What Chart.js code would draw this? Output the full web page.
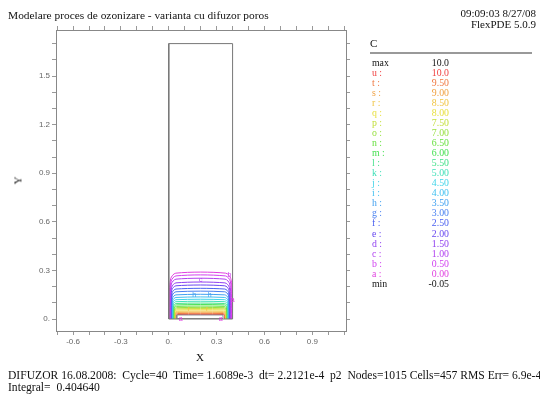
<!DOCTYPE html>
<html lang="ro">
<head>
<meta charset="UTF-8">
<title>Modelare proces de ozonizare</title>
<script src="https://cdn.jsdelivr.net/npm/chart.js@4.4.1/dist/chart.umd.min.js"></script>
<style>
    body { margin: 0; background: #fff; font-family: "Liberation Serif", "Times New Roman", serif; }
    #page { position: relative; width: 540px; height: 394px; overflow: hidden; }
    #plot { position: absolute; left: 0; top: 0; }
    .txt { position: absolute; white-space: pre; color: #111; line-height: 1; }
    #legend { position: absolute; left: 370px; top: 38px; width: 164px; }
    #legend .row { position: absolute; left: 2px; width: 77px; height: 10px; font-size: 9.8px; line-height: 10px; }
    #legend .row span { position: absolute; right: 0; top: 0; }
</style>
</head>
<body>
<div id="page">
    <canvas id="plot" width="540" height="394"></canvas>
    <div class="txt" style="left:8px; top:10px; font-size:11.4px;">Modelare proces de ozonizare - varianta cu difuzor poros</div>
    <div class="txt" style="right:4px; top:8px; font-size:11px; text-align:right;">09:09:03 8/27/08
FlexPDE 5.0.9</div>
    <div class="txt" style="left:196px; top:352px; font-size:11px;">X</div>
    <div class="txt" style="left:14px; top:175px; font-size:11px; transform:rotate(-90deg);">Y</div>
    <div class="txt" style="left:8px; top:370px; font-size:11.6px;">DIFUZOR 16.08.2008:  Cycle=40  Time= 1.6089e-3  dt= 2.2121e-4  p2  Nodes=1015 Cells=457 RMS Err= 6.9e-4</div>
    <div class="txt" style="left:8px; top:382px; font-size:11.6px;">Integral=  0.404640</div>
    <div id="legend"></div>
</div>
<script>
// contour levels of C, a (lowest) .. u (highest)
const levelNames  = ['a','b','c','d','e','f','g','h','i','j','k','l','m','n','o','p','q','r','s','t','u'];
const levelValues = [0.0,0.5,1.0,1.5,2.0,2.5,3.0,3.5,4.0,4.5,5.0,5.5,6.0,6.5,7.0,7.5,8.0,8.5,9.0,9.5,10.0];
const levelColors = ['#e040e0','#d040f0','#b040f0','#9040f0','#6848f0','#4a60f0','#4880f0','#40a0f0','#40c0f0','#40d4e8',
                     '#40e0b8','#40e088','#44e050','#68e040','#98e040','#c4e040','#e8e040','#f0c440','#f0a040','#f07840','#f04040'];
const cMax = '10.0';
const cMin = '-0.05';

// contour geometry: flat top height, base x on each wall, shoulder width
const levelTop    = [0.283,0.266,0.246,0.223,0.205,0.185,0.168,0.149,0.133,0.119,0.107,0.096,0.087,0.078,0.070,0.063,0.056,0.048,0.041,0.034,0.028];
const levelLeft   = [0.004,0.007,0.009,0.011,0.013,0.015,0.017,0.019,0.021,0.023,0.025,0.027,0.029,0.031,0.033,0.035,0.037,0.039,0.041,0.043,0.046];
const levelRight  = [0.397,0.393,0.389,0.386,0.383,0.381,0.379,0.377,0.375,0.373,0.371,0.369,0.367,0.365,0.363,0.361,0.359,0.357,0.355,0.353,0.350];
const levelCorner = [0.040,0.038,0.036,0.034,0.032,0.030,0.028,0.026,0.024,0.022,0.020,0.019,0.018,0.017,0.016,0.015,0.014,0.013,0.012,0.011,0.010];

// labels written on the contours
const labelText  = ['c','h','h','r','r','b','a','a','a'];
const labelX     = [0.20,0.16,0.256,0.125,0.24,0.38,0.40,0.075,0.325];
const labelY     = [0.240,0.146,0.146,0.060,0.060,0.270,0.120,0.000,0.000];

// domain outline and diffuser block
const domainX   = [0, 0.4, 0.4, 0, 0];
const domainY   = [0, 0, 1.7, 1.7, 0];
const diffuserX = [0.05, 0.34, 0.34, 0.05, 0.05];
const diffuserY = [0.003, 0.003, 0.025, 0.025, 0.003];

// axes
const xRange = [-0.707, 1.111];
const yRange = [-0.074, 1.784];
const xTicks = [-0.7,-0.6,-0.5,-0.4,-0.3,-0.2,-0.1,0,0.1,0.2,0.3,0.4,0.5,0.6,0.7,0.8,0.9,1.0,1.1];
const yTicks = [0,0.1,0.2,0.3,0.4,0.5,0.6,0.7,0.8,0.9,1.0,1.1,1.2,1.3,1.4,1.5,1.6,1.7];
const xTickLabels = {'-0.6':'-0.6','-0.3':'-0.3','0':'0.','0.3':'0.3','0.6':'0.6','0.9':'0.9'};
const yTickLabels = {'0':'0.','0.3':'0.3','0.6':'0.6','0.9':'0.9','1.2':'1.2','1.5':'1.5'};

function pairs(xs, ys) {
    return xs.map((x, i) => ({ x: x, y: ys[i] }));
}

function contourPoints(i) {
    const t = levelTop[i], l = levelLeft[i], r = levelRight[i], c = levelCorner[i];
    return [
        { x: l, y: 0 }, { x: l, y: t * 0.5 }, { x: l + c * 0.2, y: t * 0.88 }, { x: l + c, y: t },
        { x: r - c, y: t }, { x: r - c * 0.2, y: t * 0.88 }, { x: r, y: t * 0.5 }, { x: r, y: 0 }
    ];
}

// legend on the right
const legend = document.getElementById('legend');
let html = '<div class="txt" style="left:0;top:0;font-size:11px;">C</div>' +
    '<div style="position:absolute;left:0;top:14px;width:162px;height:2px;background:#999;"></div>';
const rowTop = 20;
html += `<div class="row" style="top:${rowTop}px;color:#111">max<span>${cMax}</span></div>`;
for (let k = 0; k < levelNames.length; k++) {
    const i = levelNames.length - 1 - k;
    const v = levelValues[i] >= 10 ? levelValues[i].toFixed(1) : levelValues[i].toFixed(2);
    html += `<div class="row" style="top:${rowTop + (k + 1) * 10.03}px;color:${levelColors[i]}">${levelNames[i]} :<span>${v}</span></div>`;
}
html += `<div class="row" style="top:${rowTop + 22 * 10.03}px;color:#111">min<span>${cMin}</span></div>`;
legend.innerHTML = html;

const datasets = [
    { data: pairs(domainX, domainY), borderColor: '#777', borderWidth: 1, showLine: true, pointRadius: 0, tension: 0 },
    { data: pairs(diffuserX, diffuserY), borderColor: '#888', borderWidth: 1, showLine: true, pointRadius: 0, tension: 0 }
];
for (let i = 0; i < levelNames.length; i++) {
    datasets.push({
        data: contourPoints(i),
        borderColor: levelColors[i],
        borderWidth: 1,
        showLine: true,
        pointRadius: 0,
        tension: 0.3
    });
}

const contourLabels = {
    id: 'contourLabels',
    afterDatasetsDraw(chart) {
        const ctx = chart.ctx;
        const xs = chart.scales.x, ys = chart.scales.y;
        ctx.save();
        ctx.font = '7px "Liberation Sans", Arial, sans-serif';
        ctx.textAlign = 'center';
        ctx.textBaseline = 'middle';
        labelText.forEach((t, n) => {
            ctx.fillStyle = levelColors[levelNames.indexOf(t)];
            ctx.fillText(t, xs.getPixelForValue(labelX[n]), ys.getPixelForValue(labelY[n]));
        });
        ctx.restore();
    }
};

function keyOf(v) { return String(Math.round(v * 10) / 10); }

function axis(position, range, ticks, labels, size) {
    return {
        type: 'linear',
        position: position,
        min: range[0],
        max: range[1],
        afterBuildTicks: s => { s.ticks = ticks.map(v => ({ value: v })); },
        afterFit: s => {
            if (position === 'left' || position === 'right') s.width = size; else s.height = size;
        },
        grid: { drawOnChartArea: false, drawTicks: true, tickLength: 4, color: '#999' },
        border: { color: '#888', width: 1 },
        ticks: {
            display: !!labels,
            autoSkip: false,
            maxRotation: 0,
            padding: 2,
            color: '#666',
            font: { family: '"Liberation Sans", Arial, sans-serif', size: 8 },
            callback: v => (labels && labels[keyOf(v)] !== undefined) ? labels[keyOf(v)] : ''
        }
    };
}

new Chart(document.getElementById('plot'), {
    type: 'scatter',
    data: { datasets: datasets },
    options: {
        responsive: false,
        animation: false,
        devicePixelRatio: 1,
        layout: { padding: { left: 36, right: 188, top: 24, bottom: 43 } },
        plugins: { legend: { display: false }, tooltip: { enabled: false } },
        scales: {
            x: axis('bottom', xRange, xTicks, xTickLabels, 20),
            x2: axis('top', xRange, xTicks, null, 6),
            y: axis('left', yRange, yTicks, yTickLabels, 20),
            y2: axis('right', yRange, yTicks, null, 6)
        }
    },
    plugins: [contourLabels]
});
</script>
</body>
</html>
